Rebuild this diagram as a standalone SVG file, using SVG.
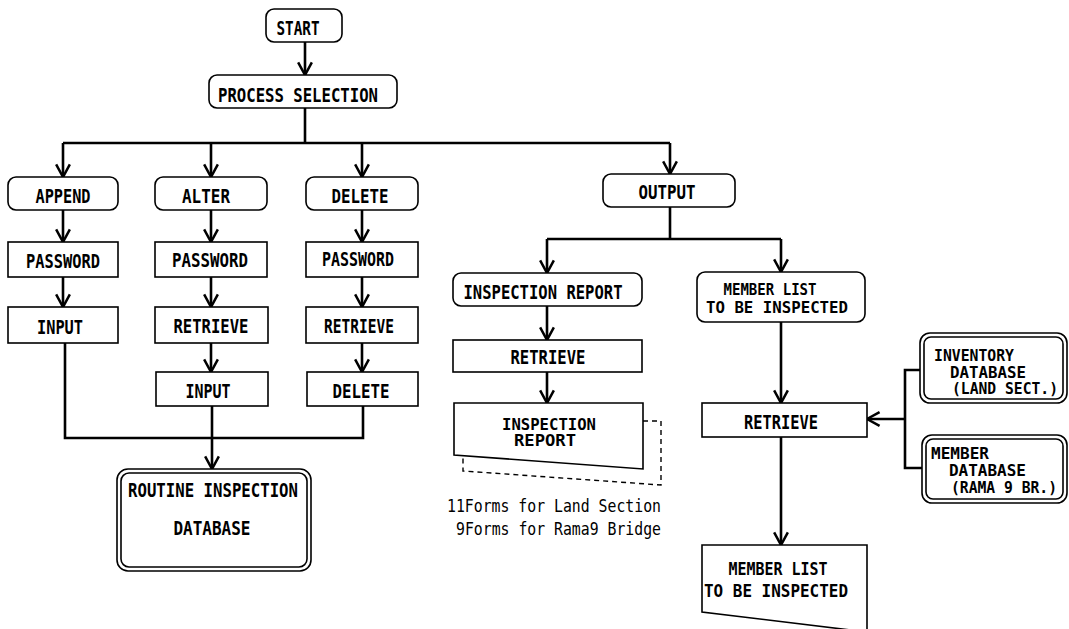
<svg xmlns="http://www.w3.org/2000/svg" width="1069" height="629" viewBox="0 0 1069 629">
  <defs>
    <marker id="arr" markerUnits="userSpaceOnUse" markerWidth="16" markerHeight="16" refX="12" refY="7" orient="auto" viewBox="0 0 14 14">
      <path d="M1,1 L12,7 L1,13" fill="none" stroke="#000" stroke-width="2.2"/>
    </marker>
  </defs>
  <style>
    .box { fill: #fff; stroke: #000; stroke-width: 1.6; }
    .doc { fill: #fff; stroke: #000; stroke-width: 1.6; }
    .shadow { fill: none; stroke: #000; stroke-width: 1.4; stroke-dasharray: 5 4; }
    .wire { fill: none; stroke: #000; stroke-width: 2.6; }
    text { font-family: "DejaVu Sans Mono", "Liberation Mono", monospace; font-weight: bold; font-size: 19px; fill: #000; }
    .m { text-anchor: middle; }
    .sm { font-size: 17px; }
    .xs { font-size: 15px; }
    .note { font-weight: normal; font-size: 18px; }
  </style>
  <rect width="1069" height="629" fill="#fff"/>

  <!-- connectors -->
  <g id="connectors">
    <line class="wire" x1="305" y1="42" x2="305" y2="75" marker-end="url(#arr)"/>
    <line class="wire" x1="305" y1="108" x2="305" y2="143"/>
    <line class="wire" x1="63" y1="143" x2="670" y2="143"/>
    <line class="wire" x1="63" y1="143" x2="63" y2="177" marker-end="url(#arr)"/>
    <line class="wire" x1="211" y1="143" x2="211" y2="177" marker-end="url(#arr)"/>
    <line class="wire" x1="362" y1="143" x2="362" y2="177" marker-end="url(#arr)"/>
    <line class="wire" x1="670" y1="143" x2="670" y2="174" marker-end="url(#arr)"/>

    <line class="wire" x1="63" y1="210" x2="63" y2="242" marker-end="url(#arr)"/>
    <line class="wire" x1="63" y1="277" x2="63" y2="307" marker-end="url(#arr)"/>
    <line class="wire" x1="211" y1="210" x2="211" y2="242" marker-end="url(#arr)"/>
    <line class="wire" x1="211" y1="277" x2="211" y2="307" marker-end="url(#arr)"/>
    <line class="wire" x1="211" y1="343" x2="211" y2="372" marker-end="url(#arr)"/>
    <line class="wire" x1="362" y1="210" x2="362" y2="242" marker-end="url(#arr)"/>
    <line class="wire" x1="362" y1="277" x2="362" y2="307" marker-end="url(#arr)"/>
    <line class="wire" x1="362" y1="343" x2="362" y2="372" marker-end="url(#arr)"/>

    <path class="wire" d="M65,343 V438 H363 V406"/>
    <line class="wire" x1="212" y1="406" x2="212" y2="469" marker-end="url(#arr)"/>

    <line class="wire" x1="670" y1="207" x2="670" y2="239"/>
    <line class="wire" x1="547" y1="239" x2="781" y2="239"/>
    <line class="wire" x1="547" y1="239" x2="547" y2="273" marker-end="url(#arr)"/>
    <line class="wire" x1="781" y1="239" x2="781" y2="272" marker-end="url(#arr)"/>
    <line class="wire" x1="547" y1="306" x2="547" y2="340" marker-end="url(#arr)"/>
    <line class="wire" x1="547" y1="372" x2="547" y2="403" marker-end="url(#arr)"/>

    <line class="wire" x1="781" y1="322" x2="781" y2="403" marker-end="url(#arr)"/>
    <line class="wire" x1="781" y1="437" x2="781" y2="545" marker-end="url(#arr)"/>

    <path class="wire" d="M921,370 H905 V468 H923"/>
    <line class="wire" x1="905" y1="419" x2="867" y2="419" marker-end="url(#arr)"/>
  </g>

  <!-- nodes -->
  <g id="start">
    <rect class="box" x="266" y="9" width="76" height="33" rx="8"/>
    <text class="m" x="298" y="35" textLength="43" lengthAdjust="spacingAndGlyphs">START</text>
  </g>
  <g id="process-selection">
    <rect class="box" x="209" y="75" width="188" height="33" rx="8"/>
    <text class="m" x="298" y="102" textLength="160" lengthAdjust="spacingAndGlyphs">PROCESS SELECTION</text>
  </g>

  <g id="append">
    <rect class="box" x="8" y="177" width="110" height="33" rx="8"/>
    <text class="m" x="63" y="203" textLength="55" lengthAdjust="spacingAndGlyphs">APPEND</text>
  </g>
  <g id="append-password">
    <rect class="box" x="8" y="242" width="110" height="35"/>
    <text class="m" x="63" y="268" textLength="74" lengthAdjust="spacingAndGlyphs">PASSWORD</text>
  </g>
  <g id="append-input">
    <rect class="box" x="8" y="307" width="110" height="36"/>
    <text class="m" x="60" y="334" textLength="46" lengthAdjust="spacingAndGlyphs">INPUT</text>
  </g>

  <g id="alter">
    <rect class="box" x="155" y="177" width="112" height="33" rx="8"/>
    <text class="m" x="206" y="203" textLength="48" lengthAdjust="spacingAndGlyphs">ALTER</text>
  </g>
  <g id="alter-password">
    <rect class="box" x="155" y="242" width="112" height="35"/>
    <text class="m" x="210" y="267" textLength="76" lengthAdjust="spacingAndGlyphs">PASSWORD</text>
  </g>
  <g id="alter-retrieve">
    <rect class="box" x="155" y="307" width="113" height="36"/>
    <text class="m" x="211" y="333" textLength="75" lengthAdjust="spacingAndGlyphs">RETRIEVE</text>
  </g>
  <g id="alter-input">
    <rect class="box" x="156" y="372" width="112" height="34"/>
    <text class="m" x="208" y="398" textLength="45" lengthAdjust="spacingAndGlyphs">INPUT</text>
  </g>

  <g id="delete">
    <rect class="box" x="306" y="177" width="112" height="33" rx="8"/>
    <text class="m" x="360" y="203" textLength="57" lengthAdjust="spacingAndGlyphs">DELETE</text>
  </g>
  <g id="delete-password">
    <rect class="box" x="306" y="242" width="112" height="35"/>
    <text class="m" x="358" y="266" textLength="72" lengthAdjust="spacingAndGlyphs">PASSWORD</text>
  </g>
  <g id="delete-retrieve">
    <rect class="box" x="306" y="307" width="112" height="36"/>
    <text class="m" x="359" y="333" textLength="70" lengthAdjust="spacingAndGlyphs">RETRIEVE</text>
  </g>
  <g id="delete-delete">
    <rect class="box" x="307" y="372" width="111" height="34"/>
    <text class="m" x="361" y="398" textLength="57" lengthAdjust="spacingAndGlyphs">DELETE</text>
  </g>

  <g id="routine-db">
    <rect class="box" x="117" y="469" width="194" height="102" rx="11"/>
    <rect class="box" x="121" y="473" width="186" height="94" rx="8"/>
    <text class="m" x="213" y="497" textLength="170" lengthAdjust="spacingAndGlyphs">ROUTINE INSPECTION</text>
    <text class="m" x="212" y="535" textLength="77" lengthAdjust="spacingAndGlyphs">DATABASE</text>
  </g>

  <g id="output">
    <rect class="box" x="603" y="174" width="132" height="33" rx="8"/>
    <text class="m" x="667" y="199" textLength="57" lengthAdjust="spacingAndGlyphs">OUTPUT</text>
  </g>

  <g id="inspection-report">
    <rect class="box" x="453" y="273" width="189" height="33" rx="8"/>
    <text class="m" x="543" y="299" textLength="159" lengthAdjust="spacingAndGlyphs">INSPECTION REPORT</text>
  </g>
  <g id="report-retrieve">
    <rect class="box" x="453" y="340" width="189" height="32"/>
    <text class="m" x="548" y="364" textLength="75" lengthAdjust="spacingAndGlyphs">RETRIEVE</text>
  </g>
  <g id="report-document">
    <path class="shadow" d="M643,421 H661 V485 L463,471 V457"/>
    <path class="doc" d="M454,403 H643 V469 L454,455 Z"/>
    <text class="m xs" x="549" y="430" textLength="94" lengthAdjust="spacingAndGlyphs">INSPECTION</text>
    <text class="m xs" x="545" y="446" textLength="62" lengthAdjust="spacingAndGlyphs">REPORT</text>
  </g>
  <g id="forms-note">
    <text class="note" x="447" y="512" textLength="214" lengthAdjust="spacingAndGlyphs">11Forms for Land Section</text>
    <text class="note" x="456" y="535" textLength="205" lengthAdjust="spacingAndGlyphs">9Forms for Rama9 Bridge</text>
  </g>

  <g id="member-list">
    <rect class="box" x="697" y="272" width="168" height="50" rx="8"/>
    <text class="m xs" x="770" y="295" textLength="93" lengthAdjust="spacingAndGlyphs">MEMBER LIST</text>
    <text class="m xs" x="777" y="313" textLength="142" lengthAdjust="spacingAndGlyphs">TO BE INSPECTED</text>
  </g>
  <g id="member-retrieve">
    <rect class="box" x="702" y="403" width="165" height="34"/>
    <text class="m" x="781" y="429" textLength="74" lengthAdjust="spacingAndGlyphs">RETRIEVE</text>
  </g>
  <g id="member-document">
    <path class="doc" d="M702,545 H867 V632 L702,612 Z"/>
    <text class="m sm" x="778" y="575" textLength="99" lengthAdjust="spacingAndGlyphs">MEMBER LIST</text>
    <text class="m sm" x="776" y="597" textLength="144" lengthAdjust="spacingAndGlyphs">TO BE INSPECTED</text>
  </g>

  <g id="inventory-db">
    <rect class="box" x="920" y="333" width="147" height="70" rx="10"/>
    <rect class="box" x="924" y="337" width="139" height="62" rx="7"/>
    <text class="xs" x="934" y="361" textLength="80" lengthAdjust="spacingAndGlyphs">INVENTORY</text>
    <text class="xs" x="950" y="378" textLength="76" lengthAdjust="spacingAndGlyphs">DATABASE</text>
    <text class="xs" x="952" y="394" textLength="106" lengthAdjust="spacingAndGlyphs">(LAND SECT.)</text>
  </g>
  <g id="member-db">
    <rect class="box" x="922" y="435" width="145" height="68" rx="10"/>
    <rect class="box" x="926" y="439" width="137" height="60" rx="7"/>
    <text class="xs" x="931" y="459" textLength="58" lengthAdjust="spacingAndGlyphs">MEMBER</text>
    <text class="xs" x="949" y="476" textLength="77" lengthAdjust="spacingAndGlyphs">DATABASE</text>
    <text class="xs" x="951" y="493" textLength="106" lengthAdjust="spacingAndGlyphs">(RAMA 9 BR.)</text>
  </g>
</svg>
